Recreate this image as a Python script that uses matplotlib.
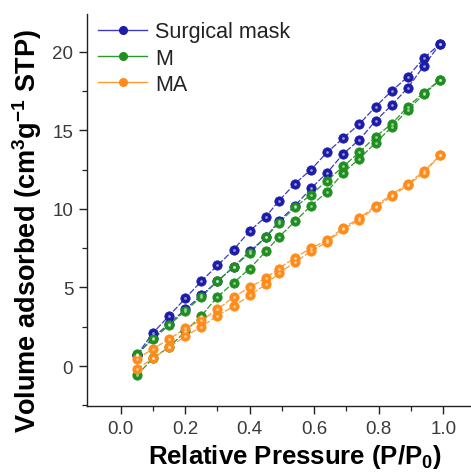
import matplotlib
matplotlib.use("Agg")
import matplotlib.pyplot as plt
from matplotlib.lines import Line2D
from matplotlib.ticker import FormatStrFormatter

plt.rcParams['font.family'] = ['Liberation Sans', 'DejaVu Sans']
plt.rcParams['mathtext.fontset'] = 'custom'
plt.rcParams['mathtext.rm'] = 'Liberation Sans:bold'
plt.rcParams['mathtext.it'] = 'Liberation Sans:bold'
plt.rcParams['mathtext.bf'] = 'Liberation Sans:bold'
plt.rcParams['mathtext.default'] = 'rm'

# Relative pressure points
p = [0.05, 0.10, 0.15, 0.20, 0.25, 0.30, 0.35, 0.40, 0.45, 0.49,
     0.54, 0.59, 0.64, 0.69, 0.74, 0.79, 0.84, 0.89, 0.94, 0.99]

mask_upper = [0.7, 2.1, 3.2, 4.3, 5.4, 6.4, 7.4, 8.6, 9.5, 10.5,
              11.6, 12.5, 13.6, 14.5, 15.4, 16.5, 17.5, 18.4, 19.6, 20.5]
mask_lower = [0.7, 1.8, 2.7, 3.6, 4.5, 5.4, 6.3, 7.3, 8.2, 9.2,
              10.2, 11.3, 12.3, 13.5, 14.4, 15.6, 16.6, 17.7, 19.1, 20.5]

m_upper = [0.76, 1.7, 2.6, 3.5, 4.4, 5.4, 6.3, 7.2, 8.2, 9.1,
           10.1, 10.9, 11.8, 12.7, 13.6, 14.6, 15.4, 16.5, 17.4, 18.2]
m_lower = [-0.6, 0.5, 1.2, 2.2, 3.2, 4.4, 5.3, 6.2, 7.3, 8.2,
           9.2, 10.2, 11.1, 12.3, 13.2, 14.2, 15.2, 16.3, 17.3, 18.2]

ma_upper = [0.45, 1.1, 1.7, 2.4, 2.9, 3.6, 4.4, 5.0, 5.6, 6.2,
            6.9, 7.5, 8.0, 8.8, 9.4, 10.2, 10.9, 11.6, 12.4, 13.4]
ma_lower = [-0.2, 0.5, 1.2, 1.9, 2.5, 3.2, 3.8, 4.5, 5.2, 5.9,
            6.6, 7.3, 7.9, 8.7, 9.3, 10.1, 10.8, 11.5, 12.3, 13.4]

labels = ["Surgical mask", "M", "MA"]
face_colors = ["#1c1ca8", "#1f8f1f", "#ff8c1a"]
line_colors = ["#3b3bc4", "#2a9a2a", "#ff9a33"]
series = [(mask_upper, mask_lower), (m_upper, m_lower), (ma_upper, ma_lower)]

fig = plt.figure(figsize=(4.71, 4.77), dpi=100)
ax = fig.add_axes([0.185, 0.1468, 0.815, 0.8218])

handles = []
for (up, lo), fc, lc, lab in zip(series, face_colors, line_colors, labels):
    for ys in (lo, up):
        ax.plot(p, ys, color=lc, lw=0.9, ls=(0, (5, 1.5)), zorder=2)
        ax.plot(p, ys, ls="none", marker="o", ms=6.7, mfc=fc, mec=fc,
                mew=0.6, zorder=3)
        ax.plot(p, ys, ls="none", marker="o", ms=2.0, mfc="#ffffff",
                mec="none", alpha=0.55, zorder=4)
    handles.append(Line2D([0], [0], color=lc, lw=1.0, marker="o", ms=5.5,
                          mfc=fc, mec=fc))

ax.set_xlim(-0.104, 1.086)
ax.set_ylim(-2.54, 22.4)
ax.set_xticks([0.0, 0.2, 0.4, 0.6, 0.8, 1.0])
ax.set_xticks([0.1, 0.3, 0.5, 0.7, 0.9], minor=True)
ax.set_yticks([0, 5, 10, 15, 20])
ax.set_yticks([-2.5, 2.5, 7.5, 12.5, 17.5], minor=True)
ax.xaxis.set_major_formatter(FormatStrFormatter("%.1f"))

for s in ["top", "right"]:
    ax.spines[s].set_visible(False)
for s in ["left", "bottom"]:
    ax.spines[s].set_linewidth(1.0)
    ax.spines[s].set_color("#222222")

ax.tick_params(which="major", direction="out", length=6, width=1.0,
               labelsize=13.5, labelcolor="#3a3a3a", color="#222222", pad=4)
ax.tick_params(which="minor", direction="out", length=3.5, width=0.9,
               color="#222222")

ax.set_xlabel("Relative Pressure (P/P$_0$)", fontsize=18.5, fontweight="bold",
              labelpad=4)
ax.set_ylabel("Volume adsorbed (cm$^3$g$^{-1}$ STP)", fontsize=19.5,
              fontweight="bold", labelpad=6)
ax.xaxis.label.set_x(0.542)
ax.yaxis.label.set_y(0.45)

leg = ax.legend(handles, labels, loc="upper left", bbox_to_anchor=(0.0, 1.009),
                frameon=False, fontsize=15.5, handlelength=2.3,
                handletextpad=0.35, labelspacing=0.25, borderaxespad=0.1)
for t in leg.get_texts():
    t.set_color("#222222")

fig.savefig("out.png", dpi=100)
